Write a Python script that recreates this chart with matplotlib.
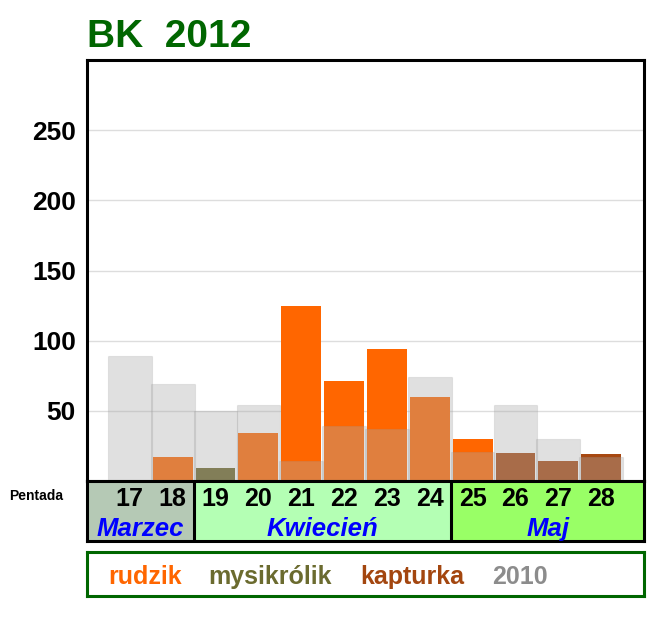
import matplotlib
matplotlib.use("Agg")
import matplotlib.pyplot as plt
from matplotlib.patches import Rectangle

plt.rcParams['font.family'] = ['Liberation Sans', 'DejaVu Sans']

# pentads (5-day periods) shown on the x axis
pentads = [17, 18, 19, 20, 21, 22, 23, 24, 25, 26, 27, 28]

# counts per pentad
rudzik     = [0, 17, 0, 34, 125, 71, 94, 60, 30, 0, 0, 0]
mysikrolik = [0, 0, 9, 0, 0, 0, 0, 0, 0, 0, 0, 0]
kapturka   = [0, 0, 0, 0, 0, 0, 0, 0, 0, 20, 14, 19]
rok_2010   = [89, 69, 50, 54, 14, 39, 37, 74, 21, 54, 30, 17]

y_ticks = [50, 100, 150, 200, 250]

# months under the pentads: name, first pentad, last pentad, cell colour
months = [("Marzec", 17, 18, "#b5c9b5"),
          ("Kwiecień", 19, 24, "#b4ffb4"),
          ("Maj", 25, 28, "#99ff66")]

legend_items = [("rudzik", "#ff6600"),
                ("mysikrólik", "#6b6b2f"),
                ("kapturka", "#a3460f"),
                ("2010", "#8c8c8c")]

W, H = 667, 621
fig = plt.figure(figsize=(W / 100, H / 100), dpi=100)

def px_axes(x0, y0, x1, y1):
    """ axes from pixel box (top-left origin) """
    return fig.add_axes([x0 / W, 1 - y1 / H, (x1 - x0) / W, (y1 - y0) / H])

x_lo, x_hi = pentads[0] - 1, pentads[-1] + 1

# ---------------- main bars ----------------
ax = px_axes(87, 60, 644, 481)
ax.set_xlim(x_lo, x_hi)
ax.set_ylim(0, 300)

ax.bar(pentads, rudzik, width=0.93, color="#ff6600", zorder=2)
ax.bar(pentads, mysikrolik, width=0.93, color="#6b6429", zorder=2)
ax.bar(pentads, kapturka, width=0.93, color="#a74811", zorder=2)
# 2010 drawn on top, semi-transparent
ax.bar(pentads, rok_2010, width=1.02, facecolor=(0.67, 0.67, 0.67, 0.37),
       edgecolor=(0.6, 0.6, 0.6, 0.2), linewidth=0.8, zorder=3)

ax.set_yticks(y_ticks)
ax.set_yticklabels([str(t) for t in y_ticks], fontsize=19, fontweight="bold")
ax.tick_params(axis="y", length=0, pad=8)
ax.set_xticks([])
ax.grid(axis="y", color="#dddddd", linewidth=1, zorder=0)
ax.set_axisbelow(True)
for s in ax.spines.values():
    s.set_linewidth(2.2)
    s.set_color("black")

fig.text(87 / W, 1 - 47 / H, "BK  2012", fontsize=28, fontweight="bold",
         color="#006600", ha="left", va="baseline")

# ---------------- pentad / month table ----------------
tab = px_axes(87, 481, 644, 541)
tab.set_xlim(x_lo, x_hi)
tab.set_ylim(0, 1)
for i, (name, first, last, col) in enumerate(months):
    left = x_lo if i == 0 else first - 0.5
    right = x_hi if i == len(months) - 1 else last + 0.5
    tab.add_patch(Rectangle((left, 0), right - left, 1, facecolor=col,
                            edgecolor="none", zorder=1))
    tab.text((left + right) / 2, 0.2, name, fontsize=18.5, fontweight="bold",
             style="italic", color="#0000ff", ha="center", va="center")
    if i < len(months) - 1:
        tab.axvline(right, color="black", linewidth=2.2, zorder=3)
for p in pentads:
    tab.text(p, 0.7, str(p), fontsize=18, fontweight="bold",
             color="black", ha="center", va="center")
tab.set_xticks([])
tab.set_yticks([])
for s in tab.spines.values():
    s.set_linewidth(2.2)
    s.set_color("black")

fig.text(36 / W, 1 - 496 / H, "Pentada", fontsize=10, fontweight="bold",
         ha="center", va="center")

# ---------------- legend box ----------------
leg = px_axes(87, 552, 644, 596)
leg.set_xlim(0, 557)
leg.set_ylim(0, 1)
leg.set_xticks([])
leg.set_yticks([])
for s in leg.spines.values():
    s.set_linewidth(2.2)
    s.set_color("#006600")
x_pos = [21, 121, 273, 405]
for (label, col), xp in zip(legend_items, x_pos):
    leg.text(xp, 0.43, label, fontsize=18, fontweight="bold", color=col,
             ha="left", va="center")

fig.savefig("out.png", dpi=100)
